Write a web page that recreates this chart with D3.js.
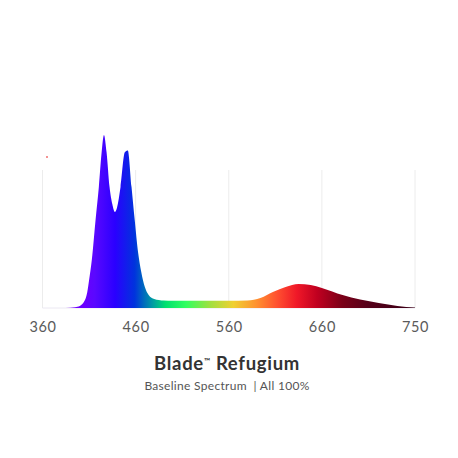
<!DOCTYPE html>
<html>
<head>
<meta charset="utf-8">
<script src="https://cdn.jsdelivr.net/npm/d3@7"></script>
<style>
  html, body { margin: 0; padding: 0; background: #fff; }
  svg { display: block; }
</style>
</head>
<body>
<svg id="chart" width="458" height="458"></svg>
<script>
// ---- data ----
const tickLabels = [360, 460, 560, 660, 750];
const wavelengths = [360, 380, 390, 395, 400, 405, 408, 410, 413, 417, 420.5, 423.5, 426, 428.8, 432, 435, 437.7, 440, 443.8, 448.4, 451.6, 455.6, 459, 462.7, 466, 470, 474, 480, 490, 500, 520, 560, 580, 594, 608, 621, 635, 648, 660, 680, 697, 715, 733, 750];
const intensity   = [0,   0,   0.2, 0.5, 1.2, 4,   9,   16,  28,  51,  70,    90,    100, 90,    70,  60,  55.5,  58,  70,    90,    91,    70,    51,  32,    21,  12,  7.5, 5.2, 4.3, 4.2, 4.2, 4.2, 4.4, 5.8, 9.4, 12.1, 13.9, 13.3, 11.6, 7.5, 4.9, 2.9, 1.2, 0.3];
const colorStopWavelengths = [380, 405, 416, 438, 459, 468, 479, 492, 514, 540, 565, 590, 612, 633, 655, 680, 705, 750];
const colorStops = ["#7a00ff", "#6a00ff", "#5a08ff", "#2a00ff", "#0033dd", "#0066c0", "#00a0a0", "#00e070", "#30ff60", "#a0e040", "#f0d030", "#ff9030", "#ff5030", "#f01828", "#c00020", "#7a0018", "#55001a", "#3a0015"];
const title = "Blade";
const titleRest = " Refugium";
const subtitle = "Baseline Spectrum  | All 100%";

// ---- layout ----
const W = 458, H = 458;
const left = 42.5, right = 415, baseY = 308, topY = 135;
const svg = d3.select("#chart");

const x = d3.scaleLinear()
  .domain(tickLabels)
  .range(d3.quantize(d3.interpolate(left, right), tickLabels.length));
const y = d3.scaleLinear().domain([0, 100]).range([baseY, topY]);

const data = wavelengths.map((w, i) => ({ w, v: intensity[i] }));

// gradient
const defs = svg.append("defs");
const grad = defs.append("linearGradient")
  .attr("id", "spec")
  .attr("gradientUnits", "userSpaceOnUse")
  .attr("x1", x(360)).attr("x2", x(750)).attr("y1", 0).attr("y2", 0);
grad.selectAll("stop")
  .data(colorStopWavelengths)
  .join("stop")
  .attr("offset", d => (x(d) - x(360)) / (x(750) - x(360)))
  .attr("stop-color", (d, i) => colorStops[i]);

// gridlines
svg.append("g")
  .selectAll("line")
  .data(tickLabels)
  .join("line")
  .attr("x1", d => x(d)).attr("x2", d => x(d))
  .attr("y1", 170).attr("y2", baseY)
  .attr("stroke", "#ececec")
  .attr("stroke-width", 1);

// baseline
svg.append("line")
  .attr("x1", x(360)).attr("x2", x(750))
  .attr("y1", baseY).attr("y2", baseY)
  .attr("stroke", "#ebe8f2").attr("stroke-width", 1);

// area
const area = d3.area()
  .x(d => x(d.w))
  .y0(baseY)
  .y1(d => y(d.v))
  .curve(d3.curveMonotoneX);
svg.append("path")
  .datum(data)
  .attr("d", area)
  .attr("fill", "url(#spec)");

// small red mark
svg.append("circle")
  .attr("cx", 47).attr("cy", 157).attr("r", 1)
  .attr("fill", "#f07070");

// axis
const axis = d3.axisBottom(x).tickValues(tickLabels).tickSize(0).tickPadding(14).tickFormat(d3.format("d"));
const gAxis = svg.append("g").attr("transform", `translate(0,${baseY})`).call(axis);
gAxis.select(".domain").remove();
gAxis.selectAll("text")
  .attr("font-family", "Lato, 'Open Sans', sans-serif")
  .attr("font-size", 14.5)
  .attr("fill", "#5a5a5a")
  .attr("letter-spacing", 0.6)
  .attr("dy", "0.71em");

// title
const t = svg.append("text")
  .attr("x", W / 2 - 2).attr("y", 370)
  .attr("text-anchor", "middle")
  .attr("font-family", "Lato, 'Open Sans', sans-serif")
  .attr("font-weight", 700)
  .attr("font-size", 18.5)
  .attr("letter-spacing", 0.7)
  .attr("fill", "#333");
t.append("tspan").text(title);
t.append("tspan").text("™").attr("font-size", 8).attr("dy", -6);
t.append("tspan").text(titleRest).attr("dy", 6);

svg.append("text")
  .attr("x", W / 2 - 2).attr("y", 390)
  .attr("text-anchor", "middle")
  .attr("font-family", "Lato, 'Open Sans', sans-serif")
  .attr("font-size", 12)
  .attr("letter-spacing", 0.3)
  .attr("fill", "#555")
  .style("white-space", "pre")
  .text(subtitle);
</script>
</body>
</html>
